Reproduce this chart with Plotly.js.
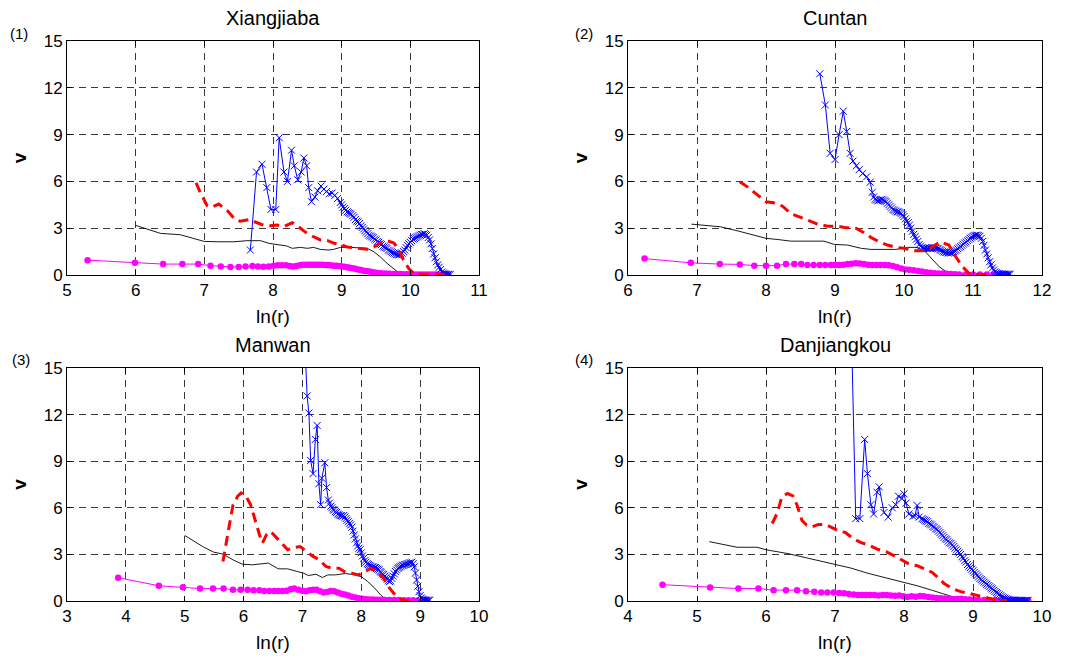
<!DOCTYPE html>
<html>
<head>
<meta charset="utf-8">
<script src="https://cdn.plot.ly/plotly-3.0.1.min.js"></script>
<style>html,body{margin:0;padding:0;background:#fff;}#chart{width:1077px;height:659px;}</style>
</head>
<body>
<div id="chart"></div>
<script>
// ---------- Data ----------
const stationNames = ['Xiangjiaba', 'Cuntan', 'Manwan', 'Danjiangkou'];
const panelLabels = ['(1)', '(2)', '(3)', '(4)'];
const xRanges = [[5, 11], [6, 12], [3, 10], [4, 10]];
const yTicks = [0, 3, 6, 9, 12, 15];

// (1) Xiangjiaba
const x1_mag = [5.30,5.99,6.40,6.68,6.91,7.09,7.24,7.38,7.50,7.60,7.70,7.78,7.86,7.94,8.01,8.07,8.13,8.19,8.24,8.29,8.34,8.39,8.43,8.48,8.52,8.56,8.60,8.64,8.68,8.72,8.76,8.80,8.84,8.88,8.92,8.96,9.00,9.04,9.08,9.12,9.16,9.20,9.24,9.28,9.32,9.36,9.40,9.44,9.48,9.52,9.56,9.60,9.65,9.70,9.75,9.80,9.85,9.90,9.95,10.00,10.05,10.10,10.15,10.20,10.25,10.30,10.35,10.40,10.45,10.50,10.55];
const y1_mag = [0.95,0.78,0.70,0.70,0.70,0.60,0.55,0.52,0.52,0.55,0.58,0.55,0.53,0.55,0.60,0.62,0.62,0.62,0.58,0.55,0.57,0.62,0.65,0.65,0.65,0.65,0.65,0.65,0.65,0.65,0.64,0.64,0.62,0.60,0.60,0.58,0.55,0.53,0.50,0.47,0.43,0.40,0.36,0.32,0.28,0.25,0.22,0.19,0.16,0.13,0.11,0.10,0.09,0.08,0.07,0.06,0.06,0.05,0.05,0.05,0.04,0.04,0.04,0.04,0.03,0.03,0.03,0.03,0.03,0.03,0.03];
const x1_blk = [6.0,6.17,6.36,6.65,6.84,7.0,7.23,7.43,7.62,7.82,7.94,8.06,8.20,8.28,8.40,8.50,8.59,8.69,8.81,8.88,8.98,9.13,9.27,9.37,9.47,9.56,9.66,9.76,9.83,9.90,10.05,10.12];
const y1_blk = [3.18,2.92,2.67,2.58,2.32,2.15,2.13,2.13,2.2,2.2,2.03,1.96,1.86,1.71,1.77,1.71,1.77,1.64,1.6,1.64,1.77,1.77,1.73,1.71,1.49,1.17,0.75,0.36,0.15,0.1,0.1,0.08];
const x1_red = [6.88,6.94,7.04,7.11,7.21,7.33,7.45,7.52,7.65,7.77,7.86,7.96,8.06,8.16,8.28,8.37,8.47,8.57,8.69,8.79,8.88,8.98,9.08,9.17,9.27,9.37,9.47,9.56,9.66,9.76,9.83,9.90,9.98,10.05,10.15,10.34,10.53];
const y1_red = [5.9,5.3,4.45,4.35,4.55,4.15,3.55,3.45,3.55,3.35,3.2,3.15,3.2,3.1,3.35,3.1,2.75,2.5,2.25,2.22,2.05,1.95,1.8,1.75,1.7,1.65,1.8,2.05,2.2,2.05,1.65,0.95,0.4,0.1,0.06,0.04,0.03];
const x1_blu = [7.67,7.76,7.84,7.91,7.97,8.04,8.09,8.16,8.21,8.27,8.31,8.36,8.41,8.45,8.49,8.52,8.56,8.61,8.65,
  8.70,8.74,8.78,8.82,8.86,8.90,8.94,8.98,
  9.00,9.02,9.04,9.06,9.08,9.10,9.12,9.14,9.16,9.18,
  9.20,9.22,9.24,9.26,9.28,9.30,9.32,9.34,9.36,9.38,
  9.40,9.42,9.44,9.46,9.48,9.50,9.52,9.54,9.56,9.58,
  9.60,9.62,9.64,9.66,9.68,9.70,9.72,9.74,9.76,9.78,
  9.80,9.82,9.84,9.86,9.88,9.90,9.92,9.94,9.96,9.98,
  10.00,10.02,10.04,10.06,10.08,10.10,10.12,10.14,10.16,10.18,
  10.20,10.22,10.24,10.26,10.28,10.30,10.32,10.34,10.36,10.38,
  10.40,10.42,10.44,10.46,10.48,10.50,10.52,10.54,10.56,10.58];
const y1_blu = [1.6,6.6,7.1,5.6,4.2,4.2,8.8,6.6,6.0,8.0,7.0,6.1,6.6,7.5,7.0,5.6,4.7,5.0,5.4,
  5.7,5.5,5.35,5.2,5.25,5.1,4.9,4.65,
  4.5,4.35,4.25,4.15,4.05,4.0,3.95,3.9,3.8,3.7,
  3.55,3.45,3.4,3.3,3.15,3.05,2.95,2.85,2.75,2.65,
  2.55,2.5,2.45,2.4,2.3,2.25,2.15,2.1,2.0,1.95,
  1.85,1.8,1.75,1.7,1.6,1.55,1.5,1.45,1.4,1.35,
  1.3,1.3,1.3,1.35,1.4,1.5,1.6,1.75,1.9,2.0,
  2.1,2.2,2.3,2.35,2.4,2.45,2.5,2.55,2.6,2.6,
  2.65,2.6,2.55,2.4,2.25,2.0,1.7,1.35,1.1,0.85,
  0.65,0.5,0.35,0.2,0.12,0.08,0.05,0.05,0.04,0.03];

// (2) Cuntan
const x2_mag = [6.24,6.91,7.33,7.62,7.83,8.00,8.16,8.29,8.41,8.51,8.60,8.69,8.78,8.86,8.94,9.00,9.06,9.12,9.18,9.24,9.30,9.36,9.42,9.48,9.54,9.60,9.66,9.72,9.78,9.84,9.90,9.96,10.02,10.08,10.14,10.20,10.26,10.32,10.38,10.44,10.50,10.56,10.62,10.68,10.74,10.80,10.90,11.00,11.10,11.20,11.30,11.40,11.50];
const y2_mag = [1.05,0.78,0.70,0.68,0.60,0.60,0.60,0.70,0.70,0.70,0.64,0.64,0.64,0.64,0.64,0.64,0.64,0.66,0.70,0.72,0.75,0.74,0.70,0.66,0.64,0.64,0.64,0.64,0.62,0.58,0.50,0.42,0.36,0.33,0.30,0.26,0.22,0.18,0.14,0.12,0.10,0.09,0.08,0.06,0.05,0.04,0.04,0.03,0.03,0.03,0.03,0.03,0.03];
const x2_blk = [6.92,7.10,7.34,7.58,7.82,8.0,8.16,8.36,8.55,8.84,8.99,9.18,9.38,9.52,9.71,9.88,10.05,10.19,10.31,10.41,10.51,10.61,10.73,10.97,11.11];
const y2_blk = [3.26,3.2,3.09,2.84,2.56,2.35,2.28,2.17,2.17,2.17,1.96,1.92,1.71,1.64,1.64,1.64,1.77,1.77,1.49,1.0,0.53,0.21,0.11,0.11,0.09];
const x2_red = [7.62,7.73,7.88,8.0,8.11,8.24,8.36,8.50,8.62,8.75,8.89,9.02,9.14,9.31,9.42,9.52,9.64,9.76,9.88,10.0,10.15,10.29,10.41,10.53,10.65,10.75,10.85,10.94,11.06,11.26];
const y2_red = [5.97,5.65,5.12,4.69,4.63,4.41,3.94,3.69,3.52,3.26,3.13,3.13,3.05,2.99,2.71,2.41,2.13,1.92,1.77,1.71,1.56,1.56,1.81,2.13,1.92,1.17,0.53,0.11,0.04,0.04];
const x2_blu = [8.78,8.86,8.93,9.00,9.06,9.12,9.17,9.22,9.26,9.31,9.35,9.40,9.46,9.51,
  9.54,9.56,9.58,9.60,9.62,9.64,9.66,9.68,9.70,9.72,
  9.74,9.76,9.78,9.80,9.82,9.84,9.86,9.88,9.90,9.92,
  9.94,9.96,9.98,10.00,10.02,10.04,10.06,10.08,10.10,10.12,
  10.14,10.16,10.18,10.20,10.22,10.24,10.26,10.28,10.30,10.32,
  10.34,10.36,10.38,10.40,10.42,10.44,10.46,10.48,10.50,10.52,
  10.54,10.56,10.58,10.60,10.62,10.64,10.66,10.68,10.70,10.72,
  10.74,10.76,10.78,10.80,10.82,10.84,10.86,10.88,10.90,10.92,
  10.94,10.96,10.98,11.00,11.02,11.04,11.06,11.08,11.10,11.12,
  11.14,11.16,11.18,11.20,11.22,11.24,11.26,11.28,11.30,11.32,
  11.34,11.36,11.38,11.40,11.42,11.44,11.46,11.48,11.50,11.52,
  11.54];
const y2_blu = [12.9,10.9,7.8,7.4,9.0,10.5,9.2,7.8,7.3,7.0,6.75,6.5,6.3,5.95,
  5.3,5.0,4.85,4.8,4.75,4.8,4.8,4.85,4.8,4.75,
  4.7,4.6,4.5,4.4,4.3,4.2,4.15,4.1,4.05,4.05,
  4.0,3.95,3.85,3.75,3.6,3.45,3.35,3.2,3.0,2.8,
  2.6,2.45,2.3,2.15,1.95,1.85,1.75,1.7,1.7,1.7,
  1.7,1.72,1.72,1.75,1.75,1.75,1.72,1.7,1.68,1.62,
  1.58,1.52,1.48,1.45,1.45,1.42,1.42,1.42,1.45,1.5,
  1.55,1.6,1.68,1.75,1.82,1.9,1.98,2.05,2.12,2.2,
  2.28,2.35,2.42,2.48,2.52,2.55,2.55,2.52,2.48,2.35,
  2.15,1.9,1.6,1.35,1.1,0.85,0.65,0.45,0.32,0.22,
  0.15,0.1,0.08,0.06,0.06,0.05,0.05,0.05,0.05,0.05,
  0.05];

// (3) Manwan
const x3_mag = [3.87,4.56,4.97,5.26,5.48,5.66,5.82,5.95,6.07,6.17,6.27,6.35,6.44,6.52,6.59,6.66,6.73,6.80,6.86,6.93,7.00,7.06,7.12,7.18,7.24,7.30,7.36,7.42,7.48,7.54,7.60,7.66,7.72,7.78,7.84,7.90,7.96,8.02,8.08,8.14,8.20,8.26,8.32,8.40,8.48,8.56,8.64,8.72,8.80,8.88,8.96,9.04,9.12];
const y3_mag = [1.5,0.98,0.88,0.8,0.8,0.8,0.72,0.72,0.72,0.7,0.7,0.64,0.64,0.64,0.64,0.64,0.66,0.76,0.8,0.72,0.66,0.62,0.7,0.72,0.72,0.62,0.55,0.58,0.64,0.62,0.55,0.47,0.42,0.35,0.28,0.22,0.17,0.14,0.12,0.1,0.09,0.08,0.08,0.07,0.07,0.06,0.06,0.05,0.05,0.05,0.04,0.04,0.04];
const x3_blk = [5.0,5.16,5.33,5.49,5.65,5.82,5.98,6.15,6.31,6.42,6.59,6.75,6.91,7.02,7.10,7.23,7.34,7.43,7.56,7.73,7.89,8.0,8.11,8.22,8.33,8.41,8.55,8.77,9.0];
const y3_blk = [4.22,3.84,3.45,3.15,3.02,2.65,2.37,2.33,2.37,2.44,2.07,2.07,1.9,1.79,1.64,1.72,1.51,1.68,1.68,1.77,1.68,1.57,1.25,0.86,0.39,0.13,0.06,0.04,0.03];
const x3_red = [5.65,5.71,5.77,5.82,5.90,5.96,6.04,6.12,6.20,6.27,6.32,6.39,6.46,6.54,6.64,6.75,6.86,6.96,7.07,7.18,7.29,7.40,7.51,7.62,7.73,7.84,7.95,8.05,8.16,8.27,8.38,8.46,8.55,8.66,8.77,8.93];
const y3_red = [2.54,3.94,5.13,6.16,6.75,6.96,6.75,6.2,5.13,4.27,3.73,4.27,4.48,4.16,3.73,3.3,3.45,3.51,3.19,2.87,2.65,2.22,2.11,2.11,1.85,1.79,1.68,1.85,2.11,1.9,1.47,0.93,0.5,0.13,0.04,0.04];
const x3_blu = [7.0,7.08,7.11,7.14,7.18,7.22,7.25,7.28,7.31,7.33,7.38,7.41,7.44,
  7.46,7.48,7.50,7.52,7.54,7.56,7.58,7.60,7.62,7.64,
  7.66,7.68,7.70,7.72,7.74,7.76,7.78,7.80,7.82,7.84,
  7.86,7.88,7.90,7.92,7.94,7.96,7.98,8.00,8.02,8.04,
  8.06,8.08,8.10,8.12,8.14,8.16,8.18,8.20,8.22,8.24,
  8.26,8.28,8.30,8.32,8.34,8.36,8.38,8.40,8.42,8.44,
  8.46,8.48,8.50,8.52,8.54,8.56,8.58,8.60,8.62,8.64,
  8.66,8.68,8.70,8.72,8.74,8.76,8.78,8.80,8.82,8.84,
  8.86,8.88,8.90,8.92,8.94,8.96,8.98,9.00,9.02,9.04,
  9.06,9.08,9.10,9.12,9.14,9.16];
const y3_blu = [20,13.2,12.1,9.05,8.2,10.4,11.3,7.55,6.2,7.9,8.9,7.3,6.5,
  6.3,6.1,6.0,5.9,5.85,5.75,5.7,5.6,5.55,5.5,
  5.5,5.45,5.5,5.4,5.3,5.2,5.1,5.0,4.9,4.75,
  4.5,4.25,4.0,3.75,3.55,3.4,3.3,3.1,2.9,2.75,
  2.6,2.5,2.4,2.35,2.3,2.25,2.2,2.2,2.15,2.15,
  2.1,2.05,2.0,1.9,1.85,1.75,1.7,1.6,1.5,1.4,
  1.3,1.25,1.3,1.45,1.6,1.75,1.9,2.0,2.1,2.15,
  2.2,2.25,2.3,2.3,2.35,2.35,2.4,2.4,2.45,2.45,
  2.5,2.4,2.2,1.8,1.35,0.95,0.6,0.35,0.2,0.12,
  0.08,0.06,0.05,0.05,0.05,0.05];

// (4) Danjiangkou
const x4_mag = [4.50,5.19,5.60,5.89,6.11,6.29,6.45,6.58,6.70,6.80,6.89,6.98,7.06,7.13,7.20,7.27,7.33,7.39,7.45,7.51,7.57,7.63,7.69,7.75,7.81,7.87,7.93,7.99,8.05,8.11,8.17,8.23,8.29,8.35,8.41,8.47,8.53,8.59,8.65,8.71,8.77,8.83,8.89,8.95,9.01,9.08,9.16,9.24,9.32,9.40,9.48,9.56,9.64,9.72,9.80];
const y4_mag = [1.05,0.87,0.8,0.8,0.7,0.7,0.7,0.62,0.6,0.55,0.55,0.55,0.52,0.5,0.45,0.42,0.38,0.38,0.38,0.38,0.38,0.36,0.38,0.38,0.36,0.34,0.36,0.3,0.25,0.3,0.28,0.32,0.3,0.25,0.22,0.2,0.18,0.16,0.14,0.12,0.13,0.15,0.12,0.1,0.08,0.07,0.06,0.05,0.05,0.04,0.04,0.03,0.03,0.03,0.03];
const x4_blk = [5.18,5.58,5.87,6.0,6.32,6.63,6.85,7.0,7.23,7.48,7.77,8.0,8.2,8.4,8.55,8.7,8.9,9.1,9.3,9.5,9.7];
const y4_blk = [3.82,3.46,3.46,3.3,3.05,2.73,2.55,2.36,2.12,1.78,1.45,1.21,0.97,0.7,0.47,0.28,0.15,0.08,0.05,0.03,0.02];
const x4_red = [6.09,6.16,6.23,6.31,6.39,6.45,6.52,6.59,6.67,6.76,6.86,6.97,7.06,7.15,7.26,7.37,7.49,7.61,7.74,7.86,7.98,8.08,8.19,8.31,8.41,8.48,8.58,8.70,8.82,8.94,9.06,9.20,9.35,9.49];
const y4_red = [4.99,5.63,6.7,6.92,6.77,6.17,5.2,4.88,4.78,4.93,4.93,4.71,4.5,4.41,4.03,3.77,3.6,3.34,3.17,2.91,2.63,2.36,2.27,2.06,1.84,1.56,1.13,0.81,0.6,0.49,0.34,0.21,0.06,0.04];
const x4_blu = [7.22,7.30,7.36,7.43,7.47,7.52,7.56,7.61,7.64,7.71,7.77,7.83,7.88,7.92,7.97,8.00,8.03,8.07,8.13,8.16,8.19,8.22,
  8.26,8.28,8.30,8.32,8.34,8.36,8.38,8.40,8.42,8.44,
  8.46,8.48,8.50,8.52,8.54,8.56,8.58,8.60,8.62,8.64,
  8.66,8.68,8.70,8.72,8.74,8.76,8.78,8.80,8.82,8.84,
  8.86,8.88,8.90,8.92,8.94,8.96,8.98,9.00,9.02,9.04,
  9.06,9.08,9.10,9.12,9.14,9.16,9.18,9.20,9.22,9.24,
  9.26,9.28,9.30,9.32,9.34,9.36,9.38,9.40,9.42,9.44,
  9.46,9.48,9.50,9.52,9.54,9.56,9.58,9.60,9.62,9.64,
  9.66,9.68,9.70,9.72,9.74,9.76,9.78,9.80];
const y4_blu = [21,5.3,5.3,10.4,8.2,6.2,5.6,7.0,7.35,5.7,5.4,6.0,6.2,6.75,6.6,6.9,6.3,5.6,5.45,5.5,6.15,5.4,
  5.3,5.25,5.2,5.15,5.1,5.0,4.95,4.9,4.8,4.75,
  4.65,4.6,4.5,4.4,4.3,4.2,4.1,4.0,3.95,3.85,
  3.75,3.7,3.6,3.5,3.4,3.3,3.2,3.1,3.0,2.85,
  2.75,2.6,2.5,2.35,2.25,2.15,2.05,1.95,1.85,1.75,
  1.65,1.55,1.45,1.38,1.3,1.22,1.15,1.08,1.0,0.92,
  0.85,0.78,0.7,0.62,0.55,0.48,0.4,0.34,0.28,0.22,
  0.18,0.14,0.11,0.09,0.07,0.06,0.05,0.05,0.04,0.04,
  0.04,0.04,0.04,0.04,0.04,0.04,0.04,0.04];

const series = [
  {mag:[x1_mag,y1_mag], blk:[x1_blk,y1_blk], red:[x1_red,y1_red], blu:[x1_blu,y1_blu]},
  {mag:[x2_mag,y2_mag], blk:[x2_blk,y2_blk], red:[x2_red,y2_red], blu:[x2_blu,y2_blu]},
  {mag:[x3_mag,y3_mag], blk:[x3_blk,y3_blk], red:[x3_red,y3_red], blu:[x3_blu,y3_blu]},
  {mag:[x4_mag,y4_mag], blk:[x4_blk,y4_blk], red:[x4_red,y4_red], blu:[x4_blu,y4_blu]}
];

// ---------- Layout geometry (pixels) ----------
const W = 1077, H = 659;
const boxes = [
  {l:67, r:479, t:41, b:275},
  {l:628, r:1042, t:41, b:275},
  {l:67, r:479, t:368, b:601},
  {l:628, r:1042, t:368, b:601}
];
const labelPos = [[19,34],[584,34],[21,360],[584,360]];
const FONT = 'Liberation Sans, Arial, Helvetica, sans-serif';

const traces = [];
const layout = {
  width: W, height: H,
  margin: {l:0, r:0, t:0, b:0},
  paper_bgcolor: '#ffffff', plot_bgcolor: '#ffffff',
  showlegend: false,
  font: {family: FONT, color: '#000'},
  annotations: []
};

series.forEach((s, i) => {
  const n = i + 1;
  const xa = 'x' + (n === 1 ? '' : n), ya = 'y' + (n === 1 ? '' : n);
  const common = {xaxis: xa, yaxis: ya, hoverinfo: 'skip', cliponaxis: true};
  traces.push(Object.assign({x: s.blk[0], y: s.blk[1], mode: 'lines',
    line: {color: '#000000', width: 0.9}}, common));
  traces.push(Object.assign({x: s.mag[0], y: s.mag[1], mode: 'lines+markers',
    line: {color: '#ff00ff', width: 1},
    marker: {symbol: 'circle', size: 6.5, color: '#ff00ff'}}, common));
  traces.push(Object.assign({x: s.blu[0], y: s.blu[1], mode: 'lines+markers',
    line: {color: '#0000ff', width: 1},
    marker: {symbol: 'x-thin-open', size: 7, color: '#0000ff', line: {width: 1, color: '#0000ff'}}}, common));
  traces.push(Object.assign({x: s.red[0], y: s.red[1], mode: 'lines',
    line: {color: '#ff0000', width: 3, dash: '10px,6px'}}, common));

  const b = boxes[i];
  const axCommon = {
    showline: true, linecolor: '#000', linewidth: 1, mirror: 'ticks',
    ticks: 'inside', ticklen: 5, tickcolor: '#000', tickwidth: 1,
    showgrid: true, gridcolor: '#3a3a3a', gridwidth: 1, griddash: '7px,5px',
    zeroline: false, tickfont: {family: FONT, size: 17, color: '#000'},
    fixedrange: true, layer: 'above traces'
  };
  layout['xaxis' + (n === 1 ? '' : n)] = Object.assign({}, axCommon, {
    domain: [b.l / W, b.r / W], anchor: ya, range: xRanges[i],
    tickmode: 'linear', tick0: xRanges[i][0], dtick: 1,
    title: {text: 'ln(r)', font: {family: FONT, size: 19, color: '#000'}, standoff: 10}
  });
  layout['yaxis' + (n === 1 ? '' : n)] = Object.assign({}, axCommon, {
    domain: [1 - b.b / H, 1 - b.t / H], anchor: xa, range: [0, 15],
    tickmode: 'array', tickvals: yTicks, ticktext: yTicks.map(String),
    title: {text: '<b>v</b>', font: {family: FONT, size: 19, color: '#000'}, standoff: 12}
  });
  layout.annotations.push({
    text: stationNames[i], xref: 'paper', yref: 'paper',
    x: (b.l + b.r) / 2 / W, y: 1 - b.t / H, xanchor: 'center', yanchor: 'middle',
    yshift: 23, showarrow: false, font: {family: FONT, size: 20, color: '#000'}
  });
  layout.annotations.push({
    text: panelLabels[i], xref: 'paper', yref: 'paper',
    x: labelPos[i][0] / W, y: 1 - labelPos[i][1] / H, xanchor: 'center', yanchor: 'middle',
    showarrow: false, font: {family: FONT, size: 15, color: '#000'}
  });
});

Plotly.newPlot('chart', traces, layout, {staticPlot: true, displayModeBar: false});
</script>
</body>
</html>
